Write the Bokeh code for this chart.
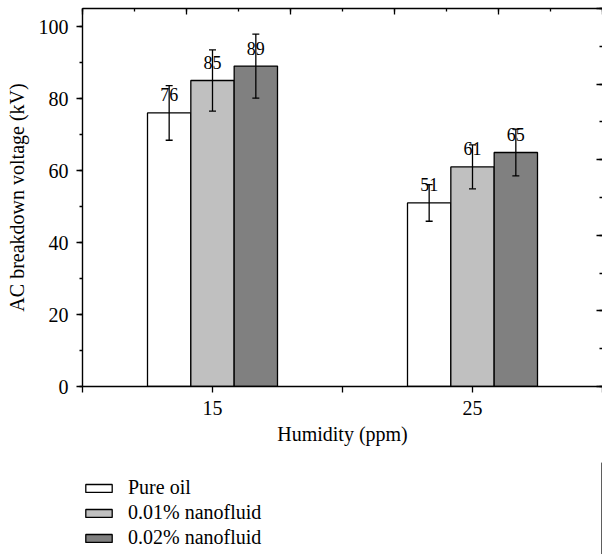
from bokeh.plotting import figure
from bokeh.layouts import column
from bokeh.models import (ColumnDataSource, Range1d, LinearAxis, SingleIntervalTicker,
                          FixedTicker, Whisker, TeeHead, Legend, LegendItem)
from bokeh.transform import dodge
from bokeh.embed import file_html
from bokeh.resources import INLINE
from bokeh.core.properties import value

# ---------------- data ----------------
humidity = [15, 25]
humidity_ticks = [15, 25]
series_names = ["Pure oil", "0.01% nanofluid", "0.02% nanofluid"]
pure_oil = [76, 51]
nano_001 = [85, 61]
nano_002 = [89, 65]
err_pure = [7.6, 5.1]
err_001 = [8.5, 6.1]
err_002 = [8.9, 6.5]
colors = ["#ffffff", "#c0c0c0", "#808080"]

FONT = "Liberation Serif"
FS = "20px"
BAR_W = 5.0 / 3.0
offsets = [-BAR_W, 0.0, BAR_W]
W = 602

p = figure(width=W, height=462, x_range=Range1d(10, 30), y_range=Range1d(0, 105),
           output_backend="svg", toolbar_location=None,
           min_border_left=82, min_border_right=0, min_border_top=8, min_border_bottom=76)
p.outline_line_color = None
p.grid.visible = False
p.background_fill_color = "white"
p.border_fill_color = "white"

# bottom axis
xa = p.xaxis[0]
xa.ticker = FixedTicker(ticks=humidity_ticks, minor_ticks=[10, 20, 30])
xa.axis_label = "Humidity (ppm)"
# left axis
ya = p.yaxis[0]
ya.ticker = SingleIntervalTicker(interval=20, num_minor_ticks=2)
ya.axis_label = "AC breakdown voltage (kV)"

for ax in (xa, ya):
    ax.axis_line_width = 1.4
    ax.axis_line_color = "black"
    ax.major_tick_line_color = "black"
    ax.minor_tick_line_color = "black"
    ax.major_tick_line_width = 1.3
    ax.minor_tick_line_width = 1.3
    ax.major_tick_in = 0
    ax.major_tick_out = 6
    ax.minor_tick_in = 0
    ax.minor_tick_out = 3
    ax.major_label_text_font = FONT
    ax.major_label_text_font_size = FS
    ax.major_label_text_color = "black"
    ax.axis_label_text_font = FONT
    ax.axis_label_text_font_size = FS
    ax.axis_label_text_font_style = "normal"
    ax.axis_label_text_color = "black"
xa.minor_tick_out = 6
xa.major_label_standoff = 8
xa.axis_label_standoff = 5
ya.major_label_standoff = 8
ya.axis_label_standoff = 8

# top frame axis with inward ticks (no labels)
p.extra_x_ranges = {"top": Range1d(0, 5)}
top = LinearAxis(x_range_name="top", ticker=SingleIntervalTicker(interval=1, num_minor_ticks=2))
top.major_tick_in = 6
top.major_tick_out = 0
top.minor_tick_in = 3
top.minor_tick_out = 0
top.major_tick_line_width = 1.3
top.minor_tick_line_width = 1.3
top.major_tick_line_color = "black"
top.minor_tick_line_color = "black"
top.major_label_text_font_size = "0px"
top.major_label_text_color = None
top.major_label_standoff = 0
top.axis_line_width = 1.4
top.axis_line_color = "black"
p.add_layout(top, "above")

# right side: ticks pointing inwards, the axis line itself lies outside the picture
p.extra_y_ranges = {"right": Range1d(0, 5)}
right = LinearAxis(y_range_name="right", ticker=SingleIntervalTicker(interval=1, num_minor_ticks=2))
right.major_tick_in = 6
right.major_tick_out = 0
right.minor_tick_in = 3
right.minor_tick_out = 0
right.major_tick_line_width = 1.3
right.minor_tick_line_width = 1.3
right.major_tick_line_color = "black"
right.minor_tick_line_color = "black"
right.major_label_text_font_size = "0px"
right.major_label_text_color = None
right.major_label_standoff = 0
right.axis_line_color = None
p.add_layout(right, "right")

series_vals = [pure_oil, nano_001, nano_002]
series_errs = [err_pure, err_001, err_002]

# legend strip below the chart (its own small figure; bars there fall outside its view)
lp = figure(width=W, height=92, x_range=Range1d(0, 1), y_range=Range1d(0, 1),
            output_backend="svg", toolbar_location=None,
            min_border_left=0, min_border_right=0, min_border_top=0, min_border_bottom=0)
lp.axis.visible = False
lp.grid.visible = False
lp.outline_line_color = None
lp.border_fill_color = "white"

items = []
for name, vals, errs, col, off in zip(series_names, series_vals, series_errs, colors, offsets):
    src = ColumnDataSource(dict(
        humidity=humidity,
        top=vals,
        upper=[v + e for v, e in zip(vals, errs)],
        lower=[v - e for v, e in zip(vals, errs)],
        label=[str(v) for v in vals],
    ))
    xs = dodge("humidity", off, range=p.x_range)
    p.vbar(x=xs, top="top", bottom=0, width=BAR_W, source=src,
           fill_color=col, line_color="black", line_width=1.3)
    p.text(x=xs, y="top", text="label", source=src, text_align="center",
           text_baseline="alphabetic", y_offset=-18, text_font=value(FONT),
           text_font_size="18px", text_color="black")
    w = Whisker(source=src, base=dodge("humidity", off, range=p.x_range),
                upper="upper", lower="lower", line_color="black", line_width=1.3,
                upper_head=TeeHead(size=7, line_width=1.3, line_color="black"),
                lower_head=TeeHead(size=7, line_width=1.3, line_color="black"))
    w.level = "overlay"
    p.add_layout(w)
    lr = lp.vbar(x="humidity", top="top", bottom=0, width=BAR_W, source=src,
                 fill_color=col, line_color="black", line_width=1.3)
    items.append(LegendItem(label=name, renderers=[lr]))

legend = Legend(items=items, location=(0, 4), orientation="vertical",
                glyph_width=33, glyph_height=10, label_standoff=13,
                padding=0, margin=0, spacing=0, label_height=25,
                border_line_color=None, background_fill_alpha=0,
                label_text_font=FONT, label_text_font_size=FS,
                label_text_color="black")
lp.add_layout(legend)

layout = column(p, lp, spacing=0)
open("out.html", "w").write(file_html(layout, INLINE))
